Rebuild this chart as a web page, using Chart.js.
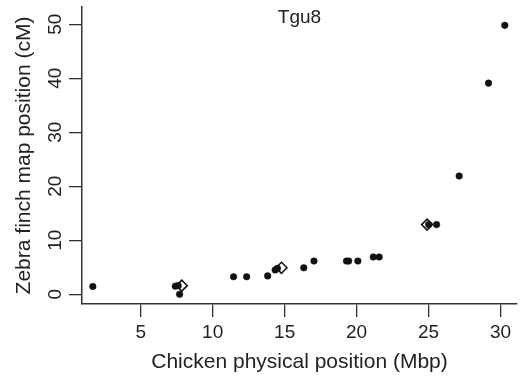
<!DOCTYPE html>
<html><head><meta charset="utf-8">
<script src="https://cdn.jsdelivr.net/npm/chart.js@4/dist/chart.umd.min.js"></script>
<style>html,body{margin:0;padding:0;background:#fff}</style>
</head><body>
<canvas id="c" width="524" height="377"></canvas>
<script>
// Data (Chicken physical position in Mbp vs Zebra finch map position in cM)
const dotX = [1.67, 7.40, 7.60, 7.70, 11.45, 12.36, 13.82, 14.34, 14.50, 16.33, 17.04, 19.30, 19.45, 20.09, 21.16, 21.57, 25.01, 25.56, 27.13, 29.17, 30.30];
const dotY = [1.45, 1.50, 1.60, 0.00, 3.25, 3.25, 3.40, 4.50, 4.80, 4.90, 6.15, 6.15, 6.15, 6.15, 6.90, 6.90, 12.90, 12.90, 21.90, 39.10, 49.80];
const diamondX = [7.85, 14.78, 24.90];
const diamondY = [1.60, 4.90, 12.90];
const xTicks = [5, 10, 15, 20, 25, 30];
const yTicks = [0, 10, 20, 30, 40, 50];
const chartTitle = 'Tgu8';
const xTitle = 'Chicken physical position (Mbp)';
const yTitle = 'Zebra finch map position (cM)';

const FONT = 'Liberation Sans, Arial, Helvetica, sans-serif';
const toPts = (xs, ys) => xs.map((x, i) => ({x: x, y: ys[i]}));

const titlePlugin = {
  id: 'panelTitle',
  afterDraw(chart) {
    const ctx = chart.ctx, a = chart.chartArea;
    ctx.save();
    ctx.font = '19px ' + FONT;
    ctx.fillStyle = '#222';
    ctx.textAlign = 'center';
    ctx.textBaseline = 'middle';
    ctx.fillText(chartTitle, (a.left + a.right) / 2, 18);
    ctx.restore();
  }
};

new Chart(document.getElementById('c'), {
  type: 'scatter',
  data: {
    datasets: [
      { data: toPts(diamondX, diamondY), pointStyle: 'rectRot', pointRadius: 5.5,
        backgroundColor: 'rgba(0,0,0,0)', borderColor: '#111', pointBorderWidth: 1.5 },
      { data: toPts(dotX, dotY), pointStyle: 'circle', pointRadius: 3.3,
        backgroundColor: '#111', borderColor: '#111', pointBorderWidth: 0.5 }
    ]
  },
  options: {
    responsive: false,
    animation: false,
    devicePixelRatio: 1,
    layout: { padding: 0 },
    plugins: { legend: { display: false }, tooltip: { enabled: false } },
    scales: {
      x: {
        type: 'linear', position: 'bottom', min: 0.917, max: 31.15,
        afterBuildTicks: s => { s.ticks = xTicks.map(v => ({ value: v })); },
        afterFit: s => { s.height = 73; s.paddingLeft = 0; s.paddingRight = 0; },
        grid: { display: true, drawOnChartArea: false, drawTicks: true, tickLength: 13, color: '#333', lineWidth: 1.3 },
        border: { display: true, color: '#333', width: 1.5 },
        ticks: { font: { size: 19, family: FONT }, color: '#222', padding: 4, maxRotation: 0, autoSkip: false },
        title: { display: true, text: xTitle, font: { size: 21, family: FONT }, color: '#222', padding: { top: 0, bottom: 2 } }
      },
      y: {
        type: 'linear', position: 'left', min: -1.8, max: 53.2,
        afterBuildTicks: s => { s.ticks = yTicks.map(v => ({ value: v })); },
        afterFit: s => { s.width = 82; s.paddingTop = 0; s.paddingBottom = 0; },
        grid: { display: true, drawOnChartArea: false, drawTicks: true, tickLength: 13, color: '#333', lineWidth: 1.3 },
        border: { display: true, color: '#333', width: 1.5 },
        ticks: { font: { size: 19, family: FONT }, color: '#222', padding: 3, minRotation: 90, maxRotation: 90, crossAlign: 'center', autoSkip: false },
        title: { display: true, text: yTitle, font: { size: 21, family: FONT }, color: '#222', padding: { top: 12, bottom: 0 } }
      }
    }
  },
  plugins: [titlePlugin]
});
</script>
</body></html>
